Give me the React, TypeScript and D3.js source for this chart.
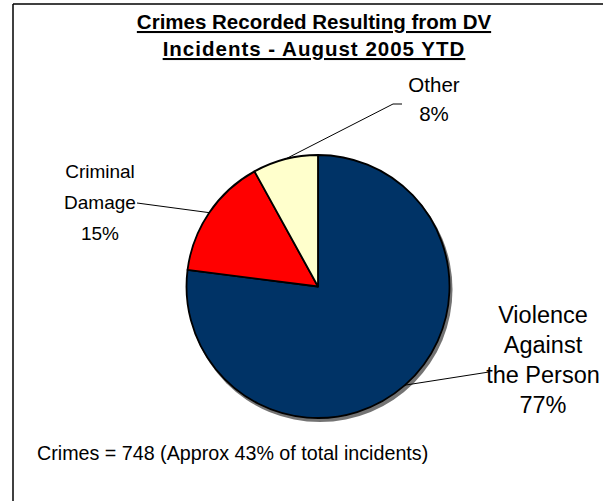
import React from "react";
import * as d3 from "d3";

const categories = ["Violence Against the Person", "Criminal Damage", "Other"];
const crimeCounts = [576, 112, 60];
const percentLabels = ["77%", "15%", "8%"];
const labelLines = [["Violence", "Against", "the Person"], ["Criminal", "Damage"], ["Other"]];
const titleLines = ["Crimes Recorded Resulting from DV", "Incidents - August 2005 YTD"];
const footnote = "Crimes = 748 (Approx 43% of total incidents)";

const W = 603;
const H = 501;
const cx = 318;
const cy = 286.5;
const R = 131.5;
const colors = ["#003366", "#FF0000", "#FFFFCC"];
const FONT = "'Liberation Sans', Arial, sans-serif";

// label layout: center x, first baseline, font size, line gap, leader start (x,y), elbow x
const labelLayout = [
  { x: 543, y: 323, size: 23.5, gap: 30, lx: 489, ly: 372, hx: 489 },
  { x: 100, y: 178, size: 19, gap: 31, lx: 137, ly: 203, hx: 137 },
  { x: 434, y: 92, size: 20.5, gap: 29, lx: 402, ly: 104, hx: 393 },
];

const titleLayout = [
  { y: 29, spacing: 0 },
  { y: 56, spacing: 1 },
];

export default function App() {
  const pie = d3
    .pie<number>()
    .sort(null)
    .value((d) => d)
    .startAngle(0)
    .endAngle(2 * Math.PI);
  const arcs = pie(crimeCounts);
  const arc = d3.arc<d3.PieArcDatum<number>>().innerRadius(0).outerRadius(R);

  return (
    <svg
      width={W}
      height={H}
      style={{ position: "absolute", left: 0, top: 0, background: "#fff" }}
      fontFamily={FONT}
    >
      <rect x={0} y={0} width={W} height={H} fill="#fff" />
      <line x1={13} y1={4} x2={W} y2={4} stroke="#000" strokeWidth={1.5} />
      <line x1={13} y1={4} x2={13} y2={H} stroke="#000" strokeWidth={1.5} />

      {titleLines.map((t, i) => (
        <text
          key={t}
          x={314}
          y={titleLayout[i].y}
          textAnchor="middle"
          fontSize={20.5}
          fontWeight="bold"
          letterSpacing={titleLayout[i].spacing}
          textDecoration="underline"
          fill="#000"
        >
          {t}
        </text>
      ))}

      <g transform={`translate(${cx},${cy})`}>
        <circle cx={2} cy={3} r={R + 1} fill="#000" opacity={0.55} />
        {arcs.map((a, i) => (
          <path
            key={categories[i]}
            d={arc(a) || ""}
            fill={colors[i]}
            stroke="#000"
            strokeWidth={1.8}
            strokeLinejoin="round"
          />
        ))}
      </g>

      {arcs.map((a, i) => {
        const L = labelLayout[i];
        const mid = (a.startAngle + a.endAngle) / 2;
        const ex = cx + R * Math.sin(mid);
        const ey = cy - R * Math.cos(mid);
        const lines = [...labelLines[i], percentLabels[i]];
        return (
          <g key={categories[i]}>
            <polyline
              points={`${L.lx},${L.ly} ${L.hx},${L.ly} ${ex},${ey}`}
              fill="none"
              stroke="#000"
              strokeWidth={1}
            />
            {lines.map((s, j) => (
              <text
                key={j}
                x={L.x}
                y={L.y + j * L.gap}
                textAnchor="middle"
                fontSize={L.size}
                fill="#000"
              >
                {s}
              </text>
            ))}
          </g>
        );
      })}

      <text x={37} y={460} fontSize={19.7} fill="#000">
        {footnote}
      </text>
    </svg>
  );
}
